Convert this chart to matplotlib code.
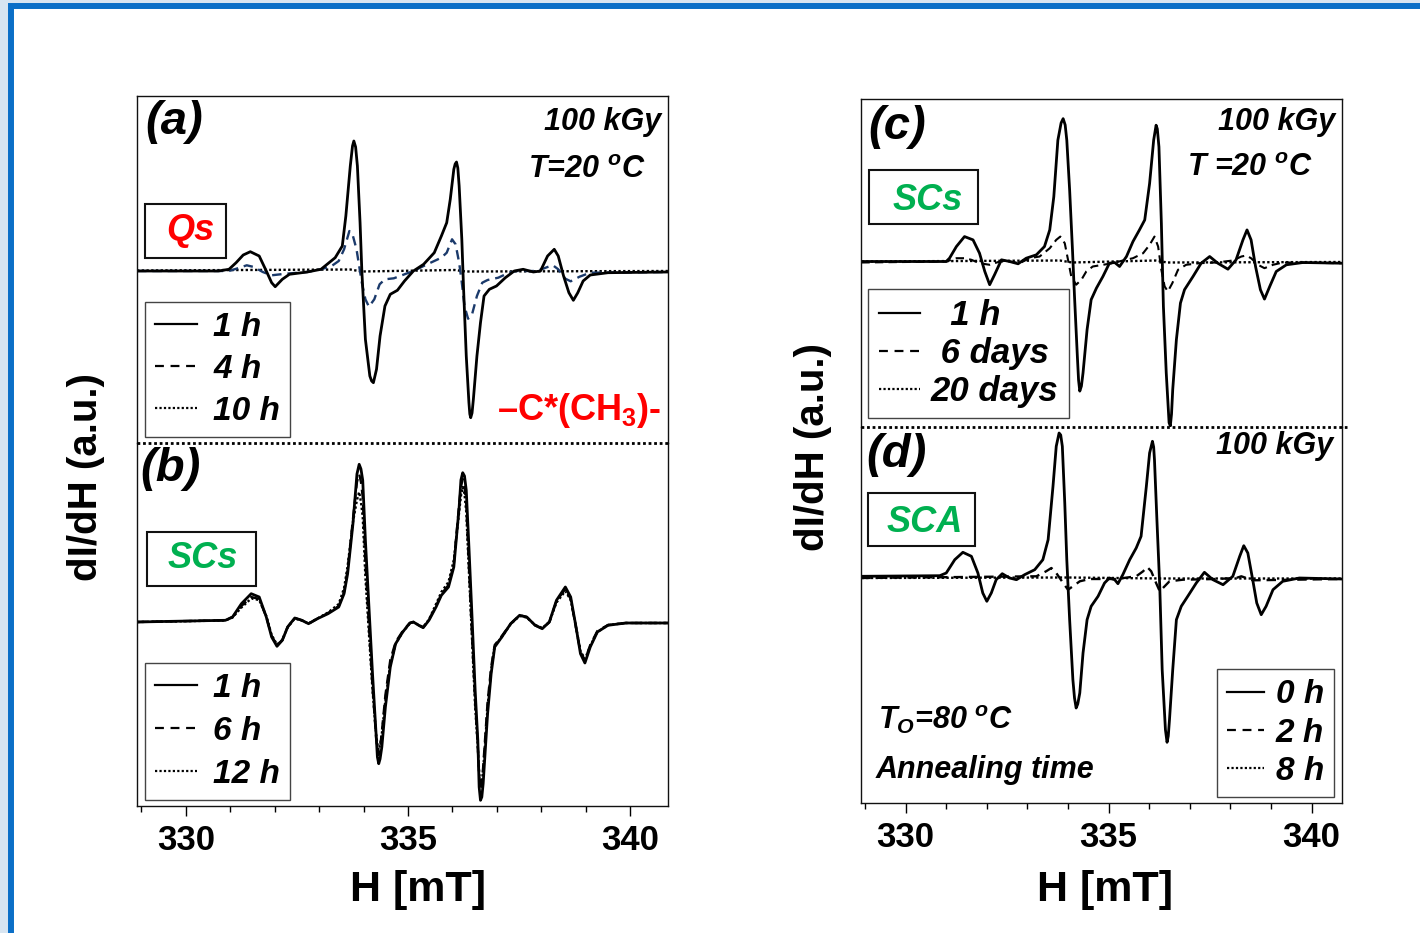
import matplotlib
matplotlib.use('Agg')
import matplotlib.pyplot as plt
from matplotlib.lines import Line2D
from matplotlib.patches import Rectangle
from matplotlib.ticker import MultipleLocator
from matplotlib import font_manager as fm

# ---------------- data (H in mT, dI/dH in a.u.) ----------------
# (a) Qs, 100 kGy, T = 20 C
a_1h_H = [328.90, 330.73, 330.97, 331.13, 331.29, 331.45, 331.65, 331.81, 331.93, 332.01,
          332.17, 332.33, 332.73, 333.04, 333.36, 333.52, 333.60, 333.70, 333.75, 333.78, 333.82, 333.86,
          333.92, 333.96, 334.04, 334.14, 334.18, 334.22, 334.29, 334.37, 334.48, 334.60, 334.76,
          334.92, 335.12, 335.35, 335.59, 335.75, 335.87, 335.95, 336.03, 336.06, 336.09, 336.12, 336.15,
          336.21, 336.25, 336.31, 336.37, 336.39, 336.41, 336.44, 336.47, 336.55, 336.63, 336.71, 336.83,
          336.99, 337.19, 337.39, 337.59, 337.82, 337.98, 338.14, 338.29, 338.38, 338.50,
          338.62, 338.72, 338.82, 338.94, 339.10, 339.50, 340.85]
a_1h_I = [0, 0, 0.17, 0.83, 1.6, 1.93, 1.5, 0, -1.17, -1.57,
          -0.83, -0.33, -0.1, 0.17, 1.33, 2.5, 5.5, 10.5, 12.5, 13.0, 12.4, 10.5,
          4.83, 0, -6.83, -10.5, -11.0, -11.17, -9.83, -6.5, -3.5, -2.33, -1.93,
          -1.0, 0, 0.67, 1.83, 3.5, 4.83, 7.17, 10.17, 10.7, 10.9, 10.3, 8.5,
          3.17, -1.83, -8.5, -13.17, -14.3, -14.67, -14.2, -12.83, -8.5, -5.17, -2.5, -1.83,
          -1.5, -0.67, 0, 0.17, -0.1, 0, 1.5, 2.17, 1.5, -0.5,
          -2.17, -2.93, -2.17, -1.0, -0.4, -0.17, -0.1]
a_4h_H = [328.90, 330.97, 331.21, 331.37, 331.53, 331.73, 331.93, 332.25, 332.73, 333.04,
          333.28, 333.44, 333.56, 333.68, 333.76, 333.84, 333.90, 333.96, 334.04, 334.12,
          334.24, 334.36, 334.48, 334.68, 334.92, 335.12, 335.43, 335.75, 335.87, 335.99,
          336.07, 336.15, 336.21, 336.27, 336.35, 336.43, 336.55, 336.67, 336.79, 337.03,
          337.27, 337.43, 337.90, 338.14, 338.26, 338.38, 338.54, 338.66, 338.86, 339.10,
          340.85]
a_4h_I = [0, 0, 0.33, 0.57, 0.4, -0.1, -0.43, -0.27, -0.1, 0.17,
          0.5, 1.0, 2.17, 4.0, 3.5, 2.17, 0.5, -1.17, -2.83, -3.57,
          -2.83, -1.33, -0.83, -0.73, -0.33, 0, 0.67, 1.33, 1.83, 3.17,
          2.67, 0.83, -1.17, -3.5, -4.77, -4.5, -2.5, -1.17, -0.9, -0.67,
          -0.17, 0, 0, 0.4, 0.57, 0.17, -0.77, -1.03, -0.57, -0.17,
          -0.1]
a_10h_H = [328.90, 333.70, 333.95, 336.05, 336.30, 340.85]
a_10h_I = [0.05, 0.15, -0.05, 0.1, -0.05, 0.0]

# (b) SCs
b_H = [328.90, 330.89, 331.05, 331.25, 331.47, 331.65, 331.81, 331.93, 332.05, 332.17,
       332.29, 332.45, 332.61, 332.76, 332.96, 333.20, 333.44, 333.56, 333.64, 333.76,
       333.85, 333.90, 333.94, 333.98, 334.04, 334.12, 334.20, 334.28, 334.31, 334.34, 334.37, 334.41, 334.49, 334.60,
       334.72, 334.88, 335.04, 335.12, 335.24, 335.34, 335.47, 335.63, 335.75, 335.91,
       336.03, 336.15, 336.19, 336.23, 336.27, 336.31, 336.37, 336.43, 336.51, 336.57, 336.60, 336.63, 336.66, 336.69,
       336.79, 336.87, 336.95, 337.11, 337.31, 337.51, 337.67, 337.86, 338.02, 338.18,
       338.34, 338.54, 338.66, 338.78, 338.88, 338.98, 339.10, 339.26, 339.50, 339.90,
       340.85]
b_1h_I = [0, 0.17, 0.5, 1.83, 2.83, 2.5, 0.5, -1.5, -2.43, -1.83,
          -0.5, 0.4, 0.17, -0.17, 0.33, 0.83, 1.5, 2.83, 4.83, 9.83,
          14.8, 15.77, 15.3, 14.17, 8.17, 1.5, -5.17, -11.17, -13.5, -14.17, -13.7, -12.5, -8.5, -4.5,
          -2.17, -1.0, -0.1, 0, -0.33, -0.57, 0.17, 1.5, 2.67, 3.5,
          5.5, 11.5, 14.2, 14.93, 14.6, 13.17, 7.5, 1.5, -6.83, -11.83, -16.5, -17.83, -17.5, -16.17,
          -9.17, -5.17, -2.5, -1.5, -0.17, 0.67, 0.5, -0.33, -0.67, 0,
          2.17, 3.5, 2.5, -0.5, -3.17, -4.1, -2.5, -1.0, -0.33, -0.1,
          -0.1]
b_6h_I = [0, 0.17, 0.5, 1.6, 2.5, 2.3, 0.5, -1.4, -2.3, -1.8,
          -0.5, 0.4, 0.17, -0.17, 0.33, 0.9, 1.6, 3.0, 5.2, 10.3,
          14.0, 14.8, 14.0, 12.5, 6.0, -0.5, -6.5, -11.5, -12.8, -13.3, -12.6, -11.0, -7.3, -3.8,
          -2.0, -0.9, -0.1, 0, -0.33, -0.55, 0.2, 1.6, 2.8, 3.7,
          5.8, 11.8, 13.5, 14.3, 13.6, 11.8, 5.5, -0.5, -8.0, -12.5, -15.3, -16.8, -16.2, -14.5,
          -8.0, -4.5, -2.3, -1.4, -0.17, 0.67, 0.5, -0.33, -0.65, 0,
          2.1, 3.3, 2.3, -0.6, -3.0, -3.8, -2.3, -0.9, -0.3, -0.1,
          -0.1]
b_12h_I = [0, 0.15, 0.45, 1.45, 2.35, 2.2, 0.6, -1.3, -2.25, -1.8,
           -0.55, 0.35, 0.15, -0.15, 0.35, 0.95, 1.8, 3.4, 5.6, 10.0,
           12.2, 13.0, 12.0, 10.5, 4.5, -1.2, -6.8, -11.2, -12.2, -12.8, -12.3, -11.2, -7.8, -4.2,
           -2.2, -1.0, -0.15, 0, -0.3, -0.5, 0.25, 1.8, 3.0, 4.0,
           6.2, 11.0, 12.6, 13.5, 12.8, 11.0, 5.0, -0.8, -8.5, -12.5, -15.0, -16.5, -16.0, -14.8,
           -8.5, -4.8, -2.4, -1.5, -0.2, 0.6, 0.45, -0.3, -0.6, 0,
           1.95, 3.1, 2.2, -0.5, -2.9, -3.7, -2.4, -1.0, -0.3, -0.1,
           -0.1]

# (c) SCs, storage
c_1h_H = [328.91, 331.00, 331.08, 331.25, 331.45, 331.66, 331.82, 331.95, 332.07, 332.19,
          332.36, 332.56, 332.77, 332.97, 333.22, 333.42, 333.55, 333.65, 333.75, 333.83, 333.88,
          333.93, 333.97, 334.04, 334.11, 334.16, 334.23, 334.26, 334.29, 334.33, 334.37, 334.47, 334.57, 334.70,
          334.86, 335.02, 335.15, 335.27, 335.44, 335.60, 335.76, 335.89, 336.01, 336.11,
          336.17, 336.20, 336.24, 336.30, 336.35, 336.42, 336.49, 336.52, 336.55, 336.58, 336.67, 336.77,
          336.87, 337.08, 337.28, 337.49, 337.69, 337.94, 338.14, 338.31, 338.41, 338.51,
          338.62, 338.74, 338.84, 338.97, 339.13, 339.38, 339.79, 340.74]
c_1h_I = [0.1, 0.1, 0.43, 1.6, 2.6, 2.27, 0.93, -0.9, -2.23, -1.23,
          0.27, 0.1, -0.13, 0.43, 0.77, 1.6, 3.27, 6.6, 12.27, 14.0, 14.43,
          13.8, 12.27, 7.27, 1.27, -3.4, -9.4, -11.8, -12.9, -12.4, -11.07, -6.73, -3.73, -2.57,
          -1.4, -0.07, 0, -0.4, 0.6, 2.1, 3.27, 4.27, 7.93, 12.27,
          13.77, 13.4, 11.6, 3.93, -4.4, -11.07, -16.07, -16.4, -15.2, -12.73, -7.73, -4.07,
          -2.73, -1.4, -0.07, 0.6, -0.07, -0.67, 0.27, 2.27, 3.27, 2.27,
          -0.4, -2.73, -3.67, -2.4, -0.9, -0.23, 0, -0.07]
c_6d_H = [328.91, 331.00, 331.25, 331.45, 331.62, 331.82, 332.07, 332.32, 332.56, 332.81,
          333.05, 333.30, 333.55, 333.71, 333.81, 333.92, 334.00, 334.08, 334.20, 334.33,
          334.45, 334.61, 334.86, 335.10, 335.35, 335.60, 335.85, 336.01, 336.13, 336.22,
          336.30, 336.38, 336.46, 336.57, 336.71, 336.91, 337.24, 337.65, 338.06, 338.27,
          338.39, 338.51, 338.68, 338.84, 339.05, 339.29, 340.74]
c_6d_I = [0, 0.1, 0.43, 0.43, 0.27, -0.07, -0.23, 0.1, 0.1, -0.07,
          0.43, 0.6, 1.43, 2.27, 2.6, 1.93, 0.27, -1.4, -2.23, -1.73,
          -0.9, -0.4, -0.23, -0.07, 0.2, 0.43, 0.93, 1.77, 2.6, 1.6,
          -0.73, -2.4, -2.9, -2.07, -0.73, -0.23, -0.07, 0, 0.2, 0.6,
          0.7, 0.43, -0.23, -0.57, -0.23, 0, -0.07]
c_20d_H = [328.91, 333.80, 334.10, 336.15, 336.45, 340.74]
c_20d_I = [0.1, 0.2, 0.0, 0.2, 0.0, 0.05]

# (d) SCA, annealing at 80 C
d_0h_H = [328.91, 330.84, 331.00, 331.21, 331.41, 331.62, 331.78, 331.90, 332.00, 332.11,
          332.23, 332.38, 332.56, 332.73, 332.93, 333.18, 333.38, 333.51, 333.63, 333.71,
          333.78, 333.82, 333.86, 333.92, 333.97, 334.04, 334.12, 334.16, 334.20, 334.24, 334.29, 334.37, 334.47,
          334.57, 334.74, 334.90, 335.02, 335.15, 335.23, 335.35, 335.52, 335.68, 335.80,
          335.93, 336.01, 336.08, 336.11, 336.13, 336.19, 336.26, 336.32, 336.40, 336.44, 336.47, 336.50,
          336.58, 336.67, 336.79, 336.95, 337.16, 337.36, 337.57, 337.82, 338.06, 338.23,
          338.33, 338.43, 338.55, 338.65, 338.76, 338.88, 339.05, 339.29, 339.70, 340.74]
d_0h_I = [0.17, 0.23, 0.5, 1.83, 2.57, 2.17, 0.5, -1.5, -2.33, -1.5,
          -0.17, 0.43, 0, -0.17, 0.33, 0.83, 1.83, 3.83, 9.17, 13.17,
          14.5, 14.3, 13.17, 7.5, 1.83, -4.17, -10.17, -12.0, -13.0, -12.6, -11.5, -7.5, -4.17,
          -2.83, -1.83, -0.5, 0, -0.17, -0.57, 0.33, 1.83, 3.0, 4.17,
          9.17, 12.5, 13.67, 13.1, 11.83, 5.83, -0.83, -9.17, -15.17, -16.43, -15.8, -14.17,
          -9.17, -4.17, -2.83, -1.83, -0.5, 0.57, -0.17, -0.67, 0.17, 2.17,
          3.23, 2.5, -0.17, -2.5, -3.67, -2.83, -1.17, -0.33, 0, -0.1]
d_2h_H = [328.91, 333.22, 333.46, 333.59, 333.71, 333.88, 334.00, 334.12, 334.29, 334.53,
          335.19, 335.68, 335.85, 335.95, 336.05, 336.17, 336.26, 336.38, 336.50, 336.83,
          337.65, 338.14, 338.27, 338.39, 338.55, 340.74]
d_2h_I = [0, 0.17, 0.67, 1.0, 0.5, -0.5, -1.17, -0.83, -0.33, -0.1,
          -0.1, 0.17, 0.67, 1.1, 0.67, -0.5, -1.33, -0.83, -0.33, -0.17,
          -0.1, 0, 0.17, 0, -0.23, -0.1]
d_8h_H = [328.91, 334.00, 336.30, 340.74]
d_8h_I = [0.0, 0.05, -0.05, -0.05]

tick_values = [330, 335, 340]
legend_a = ['1 h', '4 h', '10 h']
legend_b = ['1 h', '6 h', '12 h']
legend_c = ['  1 h', ' 6 days', '20 days']
legend_d = ['0 h', '2 h', '8 h']

# ---------------- fonts ----------------
def has_font(name):
    try:
        fm.findfont(fm.FontProperties(family=name), fallback_to_default=False)
        return True
    except Exception:
        return False

SANS = 'Liberation Sans' if has_font('Liberation Sans') else 'DejaVu Sans'
NARROW = 'Liberation Sans Narrow' if has_font('Liberation Sans Narrow') else SANS

plt.rcParams.update({
    'font.family': SANS,
    'mathtext.fontset': 'custom',
    'mathtext.rm': f'{SANS}:bold:italic',
    'mathtext.it': f'{SANS}:bold:italic',
    'mathtext.bf': f'{SANS}:bold',
})

GREEN = '#00b050'
RED = '#ff0000'
NAVY = '#1b3a6b'
DASH = (0, (4, 2.5))
DOT = (0, (1, 1))
LW = 2.0
LW2 = 1.7

W, H = 1420, 933
fig = plt.figure(figsize=(W / 100, H / 100), dpi=100, facecolor='#d8e5f1')
fig.patches.append(Rectangle((11 / W, -0.1), 1.2, 1 - 6.5 / H + 0.1,
                             transform=fig.transFigure, facecolor='white',
                             edgecolor='#0b6fc7', linewidth=4.3, zorder=-5))


def px_axes(x0, y0, x1, y1):
    return fig.add_axes([x0 / W, 1 - y1 / H, (x1 - x0) / W, (y1 - y0) / H])


ax_a = px_axes(137, 96, 668, 443)
ax_b = px_axes(137, 443, 668, 806)
ax_c = px_axes(861, 99, 1342, 427)
ax_d = px_axes(861, 427, 1342, 803)

for ax, xl, yl in [(ax_a, (328.9, 340.85), (-17.2, 17.5)),
                   (ax_b, (328.9, 340.85), (-18.4, 17.9)),
                   (ax_c, (328.9, 340.75), (-16.5, 16.4)),
                   (ax_d, (328.9, 340.75), (-22.5, 15.1))]:
    ax.set_xlim(*xl)
    ax.set_ylim(*yl)
    for s in ax.spines.values():
        s.set_linewidth(1.0)
        s.set_color('#111111')

for ax in (ax_a, ax_c):
    ax.spines['bottom'].set_visible(False)
    ax.tick_params(bottom=False, labelbottom=False, left=False, labelleft=False)
    ax.set_xticks([])
    ax.set_yticks([])

for ax, xend in ((ax_b, 1.0), (ax_d, 1.01)):
    ax.spines['top'].set_visible(False)
    # dotted divider between the two stacked panels
    ax.add_line(Line2D([0, xend], [1, 1], transform=ax.transAxes, color='k',
                       ls=(0, (1, 1)), lw=2.0, clip_on=False, zorder=4))
    ax.set_yticks([])
    ax.set_xticks(tick_values)
    ax.xaxis.set_minor_locator(MultipleLocator(1))
    ax.tick_params(axis='x', which='major', direction='out', length=7, width=1.0, pad=6)
    ax.tick_params(axis='x', which='minor', direction='out', length=4, width=1.0)
    ax.tick_params(left=False, labelleft=False)
    for lab in ax.get_xticklabels():
        lab.set_fontfamily(NARROW)
        lab.set_fontweight('bold')
        lab.set_fontsize(25)

# ---------------- curves ----------------
ax_a.plot(a_10h_H, a_10h_I, color='k', ls=DOT, lw=LW2)
ax_a.plot(a_4h_H, a_4h_I, color=NAVY, ls=DASH, lw=LW2)
ax_a.plot(a_1h_H, a_1h_I, color='k', ls='-', lw=LW)

ax_b.plot(b_H, b_12h_I, color='k', ls=DOT, lw=LW2)
ax_b.plot(b_H, b_6h_I, color='k', ls=DASH, lw=LW2)
ax_b.plot(b_H, b_1h_I, color='k', ls='-', lw=LW)

ax_c.plot(c_20d_H, c_20d_I, color='k', ls=DOT, lw=LW2)
ax_c.plot(c_6d_H, c_6d_I, color='k', ls=DASH, lw=1.5)
ax_c.plot(c_1h_H, c_1h_I, color='k', ls='-', lw=LW)

ax_d.plot(d_8h_H, d_8h_I, color='k', ls=DOT, lw=LW2)
ax_d.plot(d_2h_H, d_2h_I, color='k', ls=DASH, lw=LW2)
ax_d.plot(d_0h_H, d_0h_I, color='k', ls='-', lw=LW)


# ---------------- legends ----------------
def add_legend(ax, labels, loc, anchor, size, spacing, hlen, hpad):
    prop = fm.FontProperties(family=SANS, weight='bold', style='italic', size=size)
    handles = [Line2D([], [], color='k', ls='-', lw=1.6),
               Line2D([], [], color='k', ls=(0, (4, 3)), lw=1.6),
               Line2D([], [], color='k', ls=(0, (1, 1)), lw=1.6)]
    leg = ax.legend(handles, labels, loc=loc, bbox_to_anchor=anchor, prop=prop,
                    frameon=True, fancybox=False, framealpha=1, edgecolor='#444444',
                    handlelength=hlen, handletextpad=hpad, labelspacing=spacing,
                    borderpad=0.3, borderaxespad=0)
    leg.get_frame().set_linewidth(1.0)
    return leg


add_legend(ax_a, legend_a, 'lower left', (0.015, 0.017), 24, 0.33, 1.25, 0.5)
add_legend(ax_b, legend_b, 'lower left', (0.015, 0.017), 24, 0.36, 1.25, 0.5)
add_legend(ax_c, legend_c, 'lower left', (0.015, 0.027), 25, 0.14, 1.18, 0.32)
add_legend(ax_d, legend_d, 'lower right', (0.983, 0.016), 24, 0.22, 1.1, 0.35)


# ---------------- annotations ----------------
def atext(ax, x, y, s, size, ha='left', color='k', style='italic', family=None):
    ax.text(x, y, s, transform=ax.transAxes, ha=ha, va='center', fontsize=size,
            fontweight='bold', fontstyle=style, color=color,
            family=family or SANS, zorder=6)


def boxed(ax, x0, y0, x1, y1, s, tx, ty, color):
    ax.add_patch(Rectangle((x0, y0), x1 - x0, y1 - y0, transform=ax.transAxes,
                           facecolor='white', edgecolor='#111111', lw=1.5, zorder=5))
    atext(ax, tx, ty, s, 26, ha='center', color=color)


atext(ax_a, 0.015, 0.925, '(a)', 34)
atext(ax_a, 0.987, 0.925, '100 kGy', 22, ha='right')
atext(ax_a, 0.957, 0.787, 'T=20 $^{o}$C', 22, ha='right')
atext(ax_a, 0.987, 0.095, r'–C*(CH$_{\mathbf{3}}$)-', 26, ha='right', color=RED, style='normal')
boxed(ax_a, 0.015, 0.533, 0.168, 0.689, 'Qs', 0.100, 0.611, RED)

atext(ax_b, 0.006, 0.928, '(b)', 34)
boxed(ax_b, 0.019, 0.606, 0.224, 0.755, 'SCs', 0.124, 0.683, GREEN)

atext(ax_c, 0.015, 0.915, '(c)', 34)
atext(ax_c, 0.985, 0.930, '100 kGy', 22, ha='right')
atext(ax_c, 0.940, 0.790, 'T =20 $^{o}$C', 22, ha='right')
boxed(ax_c, 0.017, 0.619, 0.243, 0.784, 'SCs', 0.139, 0.692, GREEN)

atext(ax_d, 0.010, 0.926, '(d)', 34)
atext(ax_d, 0.981, 0.949, '100 kGy', 22, ha='right')
atext(ax_d, 0.035, 0.221, 'T$_{O}$=80 $^{o}$C', 22)
atext(ax_d, 0.031, 0.088, 'Annealing time', 22)
boxed(ax_d, 0.015, 0.684, 0.237, 0.824, 'SCA', 0.133, 0.745, GREEN)

# axis titles
for (x, y) in [(86, 477), (813, 447)]:
    fig.text(x / W, 1 - y / H, 'dI/dH (a.u.)', rotation=90, ha='center', va='center',
             fontsize=29, fontweight='bold', family=SANS)
for (x, y) in [(418, 890), (1105, 890)]:
    fig.text(x / W, 1 - y / H, 'H [mT]', ha='center', va='center',
             fontsize=31, fontweight='bold', family=NARROW)

fig.savefig('out.png', dpi=100, facecolor=fig.get_facecolor())
